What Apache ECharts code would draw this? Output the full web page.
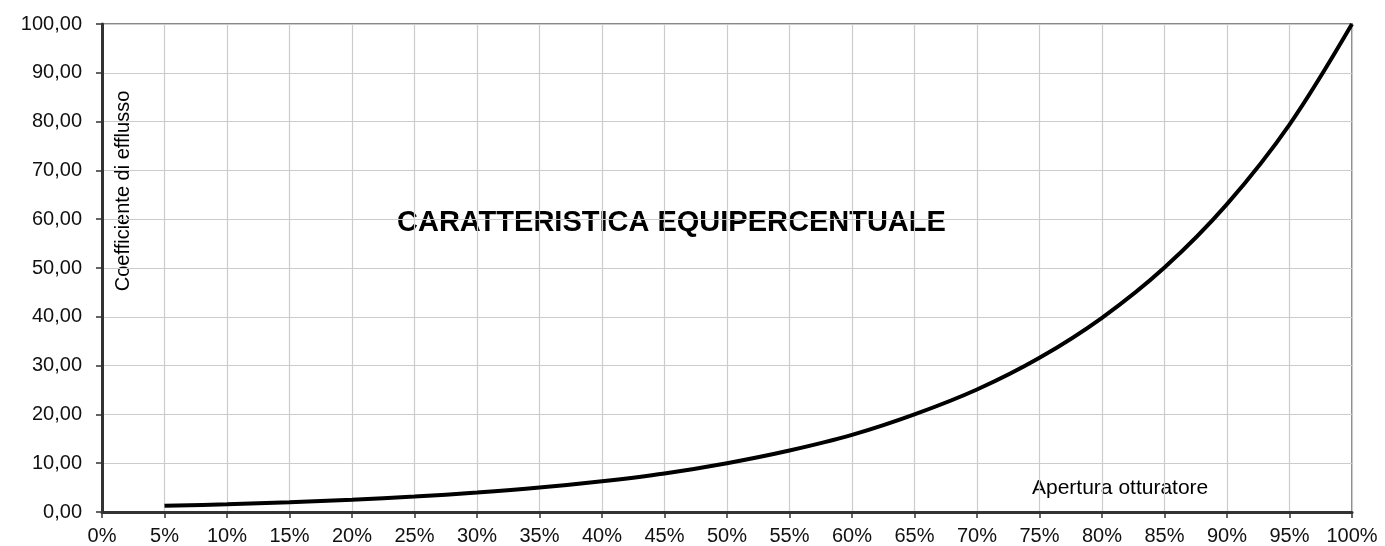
<!DOCTYPE html>
<html><head><meta charset="utf-8">
<script src="https://cdn.jsdelivr.net/npm/echarts@6/dist/echarts.min.js"></script>
<style>html,body{margin:0;padding:0;background:#fff}#c{width:1385px;height:546px}</style>
</head><body><div id="c"></div>
<script>
const apertura = [5,10,15,20,25,30,35,40,45,50,55,60,65,70,75,80,85,90,95,100];
const coefficiente = [1.26,1.58,2.0,2.5,3.16,3.98,5.0,6.3,7.9,10.0,12.6,15.8,20.0,25.1,31.6,39.8,50.1,63.1,79.4,100.0];
const titolo = 'CARATTERISTICA EQUIPERCENTUALE';
const nomeY = 'Coefficiente di efflusso';
const nomeX = 'Apertura otturatore';

const chart = echarts.init(document.getElementById('c'));
const F = 'Liberation Sans, Arial, sans-serif';
chart.setOption({
  animation:false,
  grid:{left:102, top:24, right:33, bottom:33, show:true, borderColor:'#888', borderWidth:2},
  xAxis:{type:'value', min:0, max:100, interval:5,
    axisLine:{show:true, onZero:false, lineStyle:{color:'#333', width:3}},
    axisTick:{show:true, inside:false, length:6, lineStyle:{color:'#333', width:1.5}},
    axisLabel:{formatter:'{value}%', color:'#111', fontSize:20, fontFamily:F, margin:14},
    splitLine:{show:true, lineStyle:{color:'#cccccc', width:1.2}}},
  yAxis:{type:'value', min:0, max:100, interval:10,
    axisLine:{show:true, onZero:false, lineStyle:{color:'#333', width:3}},
    axisTick:{show:true, inside:false, length:6, lineStyle:{color:'#333', width:1.5}},
    axisLabel:{formatter:v=>v.toFixed(2).replace('.',','), color:'#111', fontSize:20, fontFamily:F, margin:20},
    splitLine:{show:true, lineStyle:{color:'#cccccc', width:1.2}}},
  series:[{type:'line', data:apertura.map((x,i)=>[x,coefficiente[i]]), smooth:0.35, showSymbol:false,
    lineStyle:{color:'#000', width:4}}],
  graphic:[
    {type:'text', x:397, y:223, style:{text:titolo, font:'bold 29px '+F, fill:'#000', textVerticalAlign:'middle'}},
    {type:'text', x:123, y:191, rotation:Math.PI/2, style:{text:nomeY, font:'20px '+F, fill:'#000', textAlign:'center', textVerticalAlign:'middle'}},
    {type:'text', x:1032, y:488, style:{text:nomeX, font:'21px '+F, fill:'#000', textVerticalAlign:'middle'}}
  ]
});
</script></body></html>
